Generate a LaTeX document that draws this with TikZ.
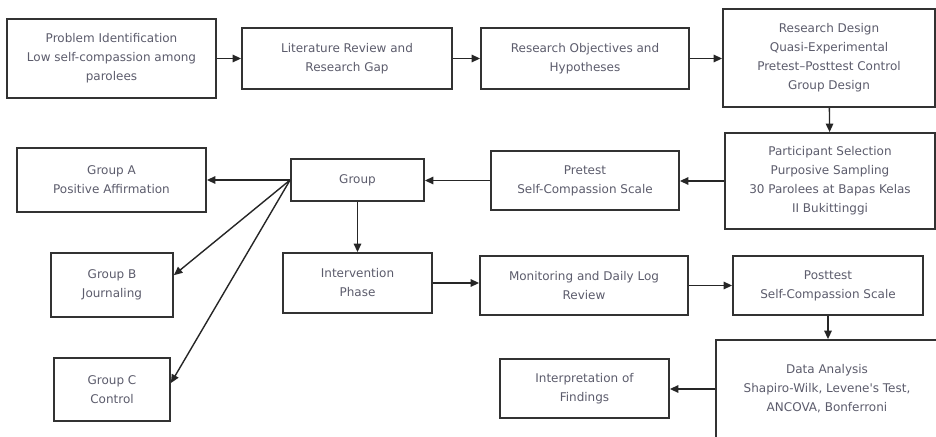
\documentclass[tikz,border=0pt]{standalone}
\usepackage{fontspec}
\newfontfamily\boxfont{DejaVu Sans}
\usetikzlibrary{arrows.meta,calc}
\definecolor{txt}{RGB}{92,92,108}
\definecolor{edge}{RGB}{50,50,50}
\tikzset{
  box/.style={draw=edge, line width=1.8pt, fill=white, align=center,
    font=\boxfont\fontsize{12}{19}\selectfont, text=txt, inner sep=0pt,
    minimum width=#1},
  box/.default=100pt,
  conn/.style={draw=black!85, line width=1.4pt, -{Triangle[length=8.5pt,width=7.5pt]}}
}
\begin{document}
\begin{tikzpicture}[x=1pt,y=-1pt]
\clip (0,0) rectangle (936,436);
\fill[white] (0,0) rectangle (936,436);
% row 1
\node[box=209pt, minimum height=79pt] (prob) at (111.5,58.5) {Problem Identification\\Low self-compassion among\\parolees};
\node[box=210pt, minimum height=61pt] (lit) at (347,58.5) {Literature Review and\\Research Gap};
\node[box=208pt, minimum height=61pt] (obj) at (585,58.5) {Research Objectives and\\Hypotheses};
\node[box=212pt, minimum height=98pt] (design) at (829,58) {Research Design\\Quasi-Experimental\\Pretest–Posttest Control\\Group Design};
% row 2
\node[box=210pt, minimum height=96pt] (part) at (830,181) {Participant Selection\\Purposive Sampling\\30 Parolees at Bapas Kelas\\II Bukittinggi};
\node[box=188pt, minimum height=59pt] (pre) at (585,180.5) {Pretest\\Self-Compassion Scale};
\node[box=133pt, minimum height=42pt] (grp) at (357.5,180) {Group};
\node[box=189pt, minimum height=64pt] (ga) at (111.5,180) {Group A\\Positive Affirmation};
% row 3
\node[box=122pt, minimum height=64pt] (gb) at (112,285) {Group B\\Journaling};
\node[box=149pt, minimum height=60pt] (inter) at (357.5,283) {Intervention\\Phase};
\node[box=208pt, minimum height=59pt] (mon) at (584,285.5) {Monitoring and Daily Log\\Review};
\node[box=190pt, minimum height=59pt] (post) at (828,285.5) {Posttest\\Self-Compassion Scale};
% row 4
\node[box=116pt, minimum height=63pt] (gc) at (112,389.5) {Group C\\Control};
\node[box=169pt, minimum height=59pt] (interp) at (584.5,388.5) {Interpretation of\\Findings};
\node[box=222pt, minimum height=98pt] (data) at (827,389) {Data Analysis\\Shapiro-Wilk, Levene's Test,\\ANCOVA, Bonferroni};
% connectors
\draw[conn] (prob) -- (lit);
\draw[conn] (lit) -- (obj);
\draw[conn] (obj.east) -- (obj.east -| design.west);
\draw[conn] (design) -- (part);
\draw[conn] (part.west) -- (part.west -| pre.east);
\draw[conn] (pre.west) -- (pre.west -| grp.east);
\draw[conn] (grp.west) -- (grp.west -| ga.east);
\draw[conn] (grp.west) -- ($(gb.north east)!0.35!(gb.south east)$);
\draw[conn] (grp.west) -- ($(gc.north east)!0.4!(gc.south east)$);
\draw[conn] (grp) -- (inter);
\draw[conn] (inter.east) -- (inter.east -| mon.west);
\draw[conn] (mon) -- (post);
\draw[conn] (post.south) -- (post.south |- data.north);
\draw[conn] (data.west) -- (data.west -| interp.east);
\end{tikzpicture}
\end{document}
